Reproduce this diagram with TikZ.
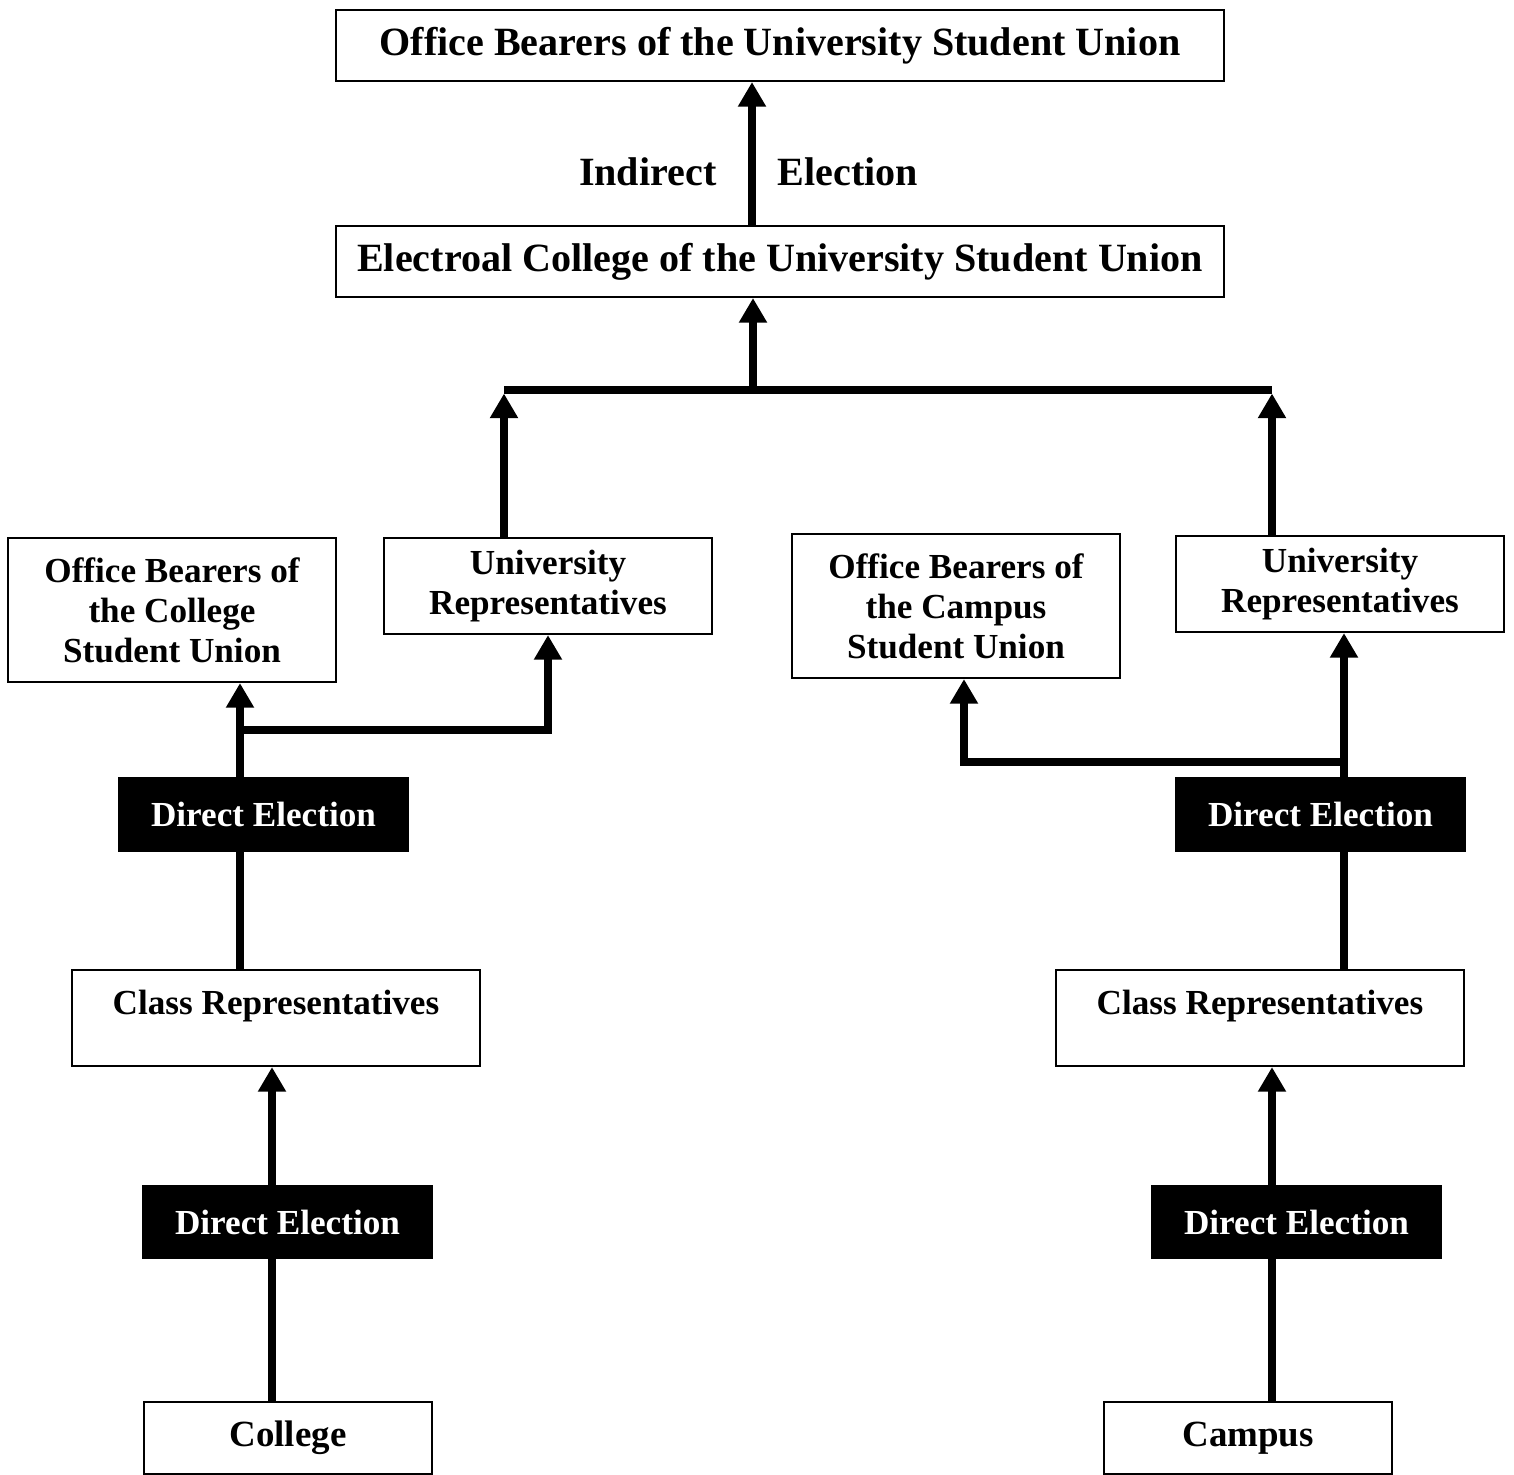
\documentclass[tikz,border=0pt]{standalone}
\usepackage{fontspec}
\setmainfont{Liberation Serif}
\usepackage{tikz}
\usetikzlibrary{arrows.meta}
\tikzset{
  box/.style={draw=black, line width=0.6pt, inner sep=0pt, align=center, font=\bfseries\fontsize{10}{11.4}\selectfont},
  bigbox/.style={box, minimum width=8.88cm, minimum height=0.71cm, font=\bfseries\fontsize{11.4}{13}\selectfont},
  midbox/.style={box, minimum width=3.28cm},
  elect/.style={box, fill=black, text=white, minimum width=2.89cm, minimum height=0.73cm},
  endbox/.style={box, minimum width=2.88cm, minimum height=0.72cm, font=\bfseries\fontsize{10.5}{12}\selectfont},
  conn/.style={draw=black, line width=2.2pt},
  arr/.style={conn, -{Triangle[width=7.6pt,length=7pt]}},
  lab/.style={font=\bfseries\fontsize{11.4}{13}\selectfont},
}

\begin{document}
\begin{tikzpicture}[x=0.01cm, y=-0.01cm]
  \useasboundingbox (0,0) rectangle (1514,1475);

  % top levels
  \node[bigbox] (obu) at (780,45.5) {Office Bearers of the University Student Union};
  \node[bigbox] (ecoll) at (780,261.5) {Electroal College of the University Student Union};

  \node[midbox, minimum height=1.44cm] (obcol) at (172,610) {Office Bearers of\\the College\\Student Union};
  \node[midbox, minimum height=0.96cm] (urleft) at (548,586) {University\\Representatives};
  \node[midbox, minimum height=1.44cm] (obcam) at (956,606) {Office Bearers of\\the Campus\\Student Union};
  \node[midbox, minimum height=0.96cm] (urright) at (1340,584) {University\\Representatives};

  % college side
  \node[elect] (delu) at (263.5,814.5) {Direct Election};
  \node[box, minimum width=4.08cm, text height=0.445cm, text depth=0.515cm] (crl) at (276,1018) {Class Representatives};
  \node[elect, minimum height=0.72cm] (dell) at (287.5,1222) {Direct Election};
  \node[endbox] (college) at (288,1438) {College};

  % campus side
  \node[elect] (deru) at (1320.5,814.5) {Direct Election};
  \node[box, minimum width=4.08cm, text height=0.445cm, text depth=0.515cm] (crr) at (1260,1018) {Class Representatives};
  \node[elect, minimum height=0.72cm] (derl) at (1296.5,1222) {Direct Election};
  \node[endbox] (campus) at (1248,1438) {Campus};

  \coordinate (tc) at (752,150);
  \coordinate (barl) at (504,390);
  \coordinate (barm) at (753,390);
  \coordinate (barr) at (1272,390);
  \coordinate (jl) at (240,730);
  \coordinate (ll) at (272,1300);
  \coordinate (jr) at (1344,762);
  \coordinate (jc) at (964,762);
  \coordinate (lr) at (1272,1300);

  \draw[arr] (ecoll.north -| tc) -- (obu.south -| tc)
    node[lab, pos=0.37, left=0.2cm] {Indirect}
    node[lab, pos=0.37, right=0.1cm] {Election};
  \draw[conn] (barl) -- (barr);
  \draw[arr] (barm) -- (ecoll.south -| barm);
  \draw[arr, shorten >=1pt] (urleft.north -| barl) -- (barl);
  \draw[arr, shorten >=1pt] (urright.north -| barr) -- (barr);

  \draw[arr] (delu.north -| jl) -- (obcol.south -| jl);
  \draw[arr] (jl) -| (urleft.south);
  \draw[conn] (crl.north -| jl) -- (delu.south -| jl);
  \draw[arr] (dell.north -| ll) -- (crl.south -| ll);
  \draw[conn] (college.north -| ll) -- (dell.south -| ll);

  \draw[arr] (deru.north -| jr) -- (urright.south -| jr);
  \draw[arr] (jr) -- (jc) -- (obcam.south -| jc);
  \draw[conn] (crr.north -| jr) -- (deru.south -| jr);
  \draw[arr] (derl.north -| lr) -- (crr.south -| lr);
  \draw[conn] (campus.north -| lr) -- (derl.south -| lr);
\end{tikzpicture}
\end{document}
